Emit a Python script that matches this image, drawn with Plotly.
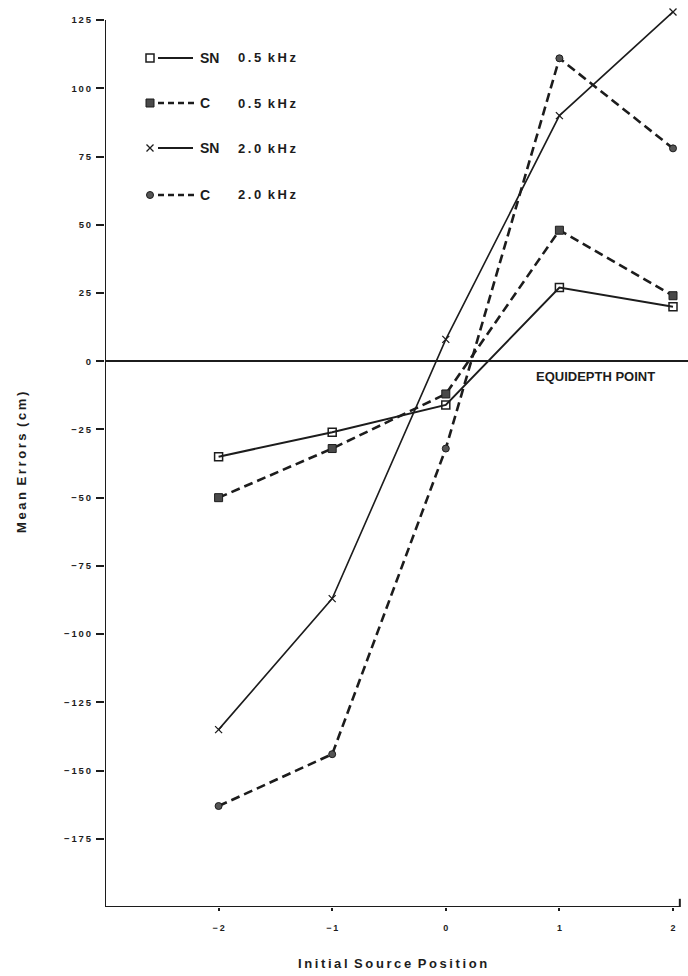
import plotly.graph_objects as go

# Initial source position (x) and mean errors in cm for each run
positions = [-2, -1, 0, 1, 2]
sn_05 = [-35, -26, -16, 27, 20]
c_05 = [-50, -32, -12, 48, 24]
sn_20 = [-135, -87, 8, 90, 128]
c_20 = [-163, -144, -32, 111, 78]

y_ticks = [125, 100, 75, 50, 25, 0, -25, -50, -75, -100, -125, -150, -175]
x_ticks = [-2, -1, 0, 1, 2]

legend_methods = ["SN", "C", "SN", "C"]
legend_freqs = ["0.5 kHz", "0.5 kHz", "2.0 kHz", "2.0 kHz"]

INK = "#1c1c1c"
FONT = "Liberation Sans, Arial, Helvetica, sans-serif"
NARROW = "Liberation Sans Narrow, Arial Narrow, Liberation Sans, sans-serif"

W, H = 688, 976
L, R, T, B = 105, 0, 1, 69


def spaced(text):
    """Open up the letter spacing of a short label; words get an en space."""
    return "\u2002".join("\u2009".join(word) for word in text.split(" "))


def fmt(v):
    return ("\u2212" + str(-v)) if v < 0 else str(v)


def px(xp):
    return (xp - L) / (W - L - R)


def py(yp):
    return (H - B - yp) / (H - T - B)


styles = [
    dict(y=sn_05, dash="solid", width=2.0,
         marker=dict(symbol="square-open", size=8, color=INK, line=dict(width=1.5, color=INK))),
    dict(y=c_05, dash="9px,5px", width=2.6,
         marker=dict(symbol="square", size=8, color="#4a4a4a", line=dict(width=1, color=INK))),
    dict(y=sn_20, dash="solid", width=1.6,
         marker=dict(symbol="x-thin-open", size=7, color=INK, line=dict(width=1.3, color=INK))),
    dict(y=c_20, dash="9px,5px", width=2.6,
         marker=dict(symbol="circle", size=7, color="#555555", line=dict(width=1, color=INK))),
]

fig = go.Figure()

for i, st in enumerate(styles):
    fig.add_trace(go.Scatter(
        x=positions, y=st["y"], mode="lines+markers",
        line=dict(color=INK, width=st["width"], dash=st["dash"]),
        marker=st["marker"], cliponaxis=False, showlegend=False,
        name=f"{legend_methods[i]} {legend_freqs[i]}",
    ))

# Key in the upper left: marker, line sample, method and frequency
key_rows = [58, 103, 148, 195]
shapes = []
annotations = []
for i, st in enumerate(styles):
    yp = key_rows[i]
    fig.add_trace(go.Scatter(
        x=[150], y=[yp], xaxis="x2", yaxis="y2", mode="markers",
        marker=st["marker"], cliponaxis=False, showlegend=False, hoverinfo="skip",
    ))
    x_end = 193 if legend_methods[i] == "SN" else 197
    shapes.append(dict(
        type="line", xref="paper", yref="paper",
        x0=px(158), x1=px(x_end), y0=py(yp), y1=py(yp),
        line=dict(color=INK, width=2 if st["dash"] == "solid" else 2.4,
                  dash=st["dash"] if st["dash"] == "solid" else "6px,4px"),
    ))
    annotations.append(dict(
        xref="paper", yref="paper", x=px(198), y=py(yp), xanchor="left", yanchor="middle",
        text=legend_methods[i], showarrow=False,
        font=dict(family=FONT, size=14, color=INK, weight="bold"),
    ))
    annotations.append(dict(
        xref="paper", yref="paper", x=px(236), y=py(yp), xanchor="left", yanchor="middle",
        text=spaced(legend_freqs[i]), showarrow=False,
        font=dict(family=FONT, size=13, color=INK, weight="bold"),
    ))

# Frame: left and bottom axis lines, and the equidepth reference line
shapes.append(dict(type="line", xref="x", yref="y", x0=-3, x1=-3, y0=-200, y1=125,
                   line=dict(color=INK, width=2)))
shapes.append(dict(type="line", xref="x", yref="y", x0=-3, x1=2.06, y0=-200, y1=-200,
                   line=dict(color=INK, width=2)))
shapes.append(dict(type="line", xref="x", yref="y", x0=2.06, x1=2.06, y0=-200, y1=-197,
                   line=dict(color=INK, width=2)))
shapes.append(dict(type="line", xref="x", yref="paper", x0=-3, x1=2.2, y0=py(361), y1=py(361),
                   line=dict(color=INK, width=2)))

annotations.append(dict(
    xref="paper", yref="paper", x=px(595), y=py(376), xanchor="center", yanchor="middle",
    text="EQUIDEPTH POINT", showarrow=False,
    font=dict(family=NARROW, size=13, color=INK, weight="bold"),
))
annotations.append(dict(
    xref="paper", yref="paper", x=px(22), y=py(463), xanchor="center", yanchor="middle",
    text=spaced("Mean Errors (cm)"), textangle=-90, showarrow=False,
    font=dict(family=FONT, size=13, color=INK, weight="bold"),
))
annotations.append(dict(
    xref="paper", yref="paper", x=px(392), y=py(963), xanchor="center", yanchor="middle",
    text=spaced("Initial Source Position"), showarrow=False,
    font=dict(family=FONT, size=13, color=INK, weight="bold"),
))

fig.update_layout(
    width=W, height=H,
    margin=dict(l=L, r=R, t=T, b=B, pad=0),
    paper_bgcolor="white", plot_bgcolor="white",
    showlegend=False,
    shapes=shapes, annotations=annotations,
    xaxis=dict(
        range=[-3, 2.132], showgrid=False, zeroline=False, showline=False,
        tickmode="array", tickvals=x_ticks, ticktext=[spaced(fmt(v)) for v in x_ticks],
        ticks="outside", ticklen=3, tickwidth=1.5, tickcolor=INK,
        ticklabelstandoff=9,
        tickfont=dict(family=FONT, size=9, color=INK, weight="bold"),
    ),
    yaxis=dict(
        range=[-200, 132], showgrid=False, zeroline=False, showline=False,
        tickmode="array", tickvals=y_ticks, ticktext=[spaced(fmt(v)) for v in y_ticks],
        ticks="outside", ticklen=8, tickwidth=2, tickcolor=INK,
        ticklabelstandoff=3,
        tickfont=dict(family=FONT, size=9.5, color=INK, weight="bold"),
    ),
    xaxis2=dict(range=[L, W - R], overlaying="x", visible=False),
    yaxis2=dict(range=[H - B, T], overlaying="y", visible=False),
)

fig.write_html("out.html")
